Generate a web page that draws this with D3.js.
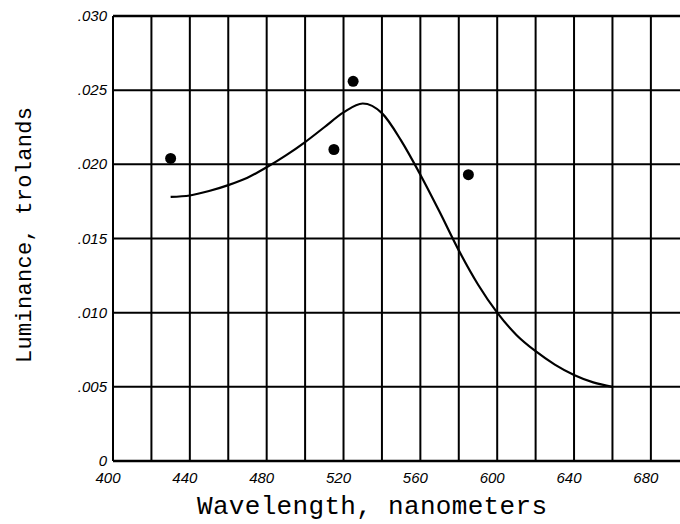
<!DOCTYPE html>
<html><head><meta charset="utf-8">
<script src="https://cdn.jsdelivr.net/npm/d3@7"></script>
<style>body{margin:0;background:#fff}svg{display:block}</style>
</head><body>
<svg id="c" width="680" height="524"></svg>
<script>
// Data
const curveWavelength = [430, 440, 450, 460, 470, 480, 490, 500, 510, 520, 530, 540, 550, 560, 570, 580, 590, 600, 610, 620, 630, 640, 650, 660];
const curveLuminance  = [0.0178, 0.0179, 0.0182, 0.0186, 0.0191, 0.0198, 0.0206, 0.0215, 0.0225, 0.0235, 0.0241, 0.02345, 0.0216, 0.0193, 0.0168, 0.0142, 0.0119, 0.0100, 0.0085, 0.0074, 0.0065, 0.0058, 0.0053, 0.0050];
const pointWavelength = [430, 515, 525, 585];
const pointLuminance  = [0.0204, 0.0210, 0.0256, 0.0193];
const xTicks = [400, 440, 480, 520, 560, 600, 640, 680];
const xGrid = d3.range(400, 701, 20);
const yTicks = [0, 0.005, 0.010, 0.015, 0.020, 0.025, 0.030];
const yTickLabels = ["0", ".005", ".010", ".015", ".020", ".025", ".030"];

const svg = d3.select("#c");
const x = d3.scaleLinear().domain([400, 700]).range([113, 689.3]);
const y = d3.scaleLinear().domain([0, 0.030]).range([461, 16]);

const g = svg.append("g");
// vertical grid
g.selectAll("line.vg").data(xGrid).join("line")
  .attr("x1", d => x(d)).attr("x2", d => x(d))
  .attr("y1", y(0.030)).attr("y2", y(0))
  .attr("stroke", "#000").attr("stroke-width", 2);
// horizontal grid
g.selectAll("line.hg").data(yTicks).join("line")
  .attr("x1", x(400)).attr("x2", 689)
  .attr("y1", d => y(d)).attr("y2", d => y(d))
  .attr("stroke", "#000").attr("stroke-width", d => (d === 0 || d === 0.030) ? 2.5 : 2);

// curve
const line = d3.line().x(d => x(d[0])).y(d => y(d[1])).curve(d3.curveMonotoneX);
svg.append("path")
  .datum(curveWavelength.map((w, i) => [w, curveLuminance[i]]))
  .attr("d", line).attr("fill", "none").attr("stroke", "#000").attr("stroke-width", 2.2);

// points
svg.selectAll("circle.pt").data(pointWavelength.map((w, i) => [w, pointLuminance[i]])).join("circle")
  .attr("cx", d => x(d[0])).attr("cy", d => y(d[1])).attr("r", 5.5).attr("fill", "#000");

// tick labels
svg.selectAll("text.yt").data(yTicks).join("text")
  .attr("x", 107).attr("y", d => y(d) + 5)
  .attr("text-anchor", "end")
  .attr("font-family", "Liberation Sans, sans-serif").attr("font-style", "italic")
  .attr("font-size", 15).text((d, i) => yTickLabels[i]);
svg.selectAll("text.xt").data(xTicks).join("text")
  .attr("x", d => x(d) - 5).attr("y", 483)
  .attr("text-anchor", "middle")
  .attr("font-family", "Liberation Sans, sans-serif").attr("font-style", "italic")
  .attr("font-size", 15).text(d => d);

// axis titles
svg.append("text")
  .attr("x", 372).attr("y", 514).attr("text-anchor", "middle")
  .attr("font-family", "Liberation Mono, Courier New, monospace").attr("font-size", 26)
  .attr("textLength", 350).attr("lengthAdjust", "spacing")
  .text("Wavelength, nanometers");
svg.append("text")
  .attr("transform", "translate(31,235) rotate(-90)").attr("text-anchor", "middle")
  .attr("font-family", "Liberation Mono, Courier New, monospace").attr("font-size", 22)
  .attr("textLength", 256).attr("lengthAdjust", "spacing")
  .text("Luminance, trolands");
</script>
</body></html>
